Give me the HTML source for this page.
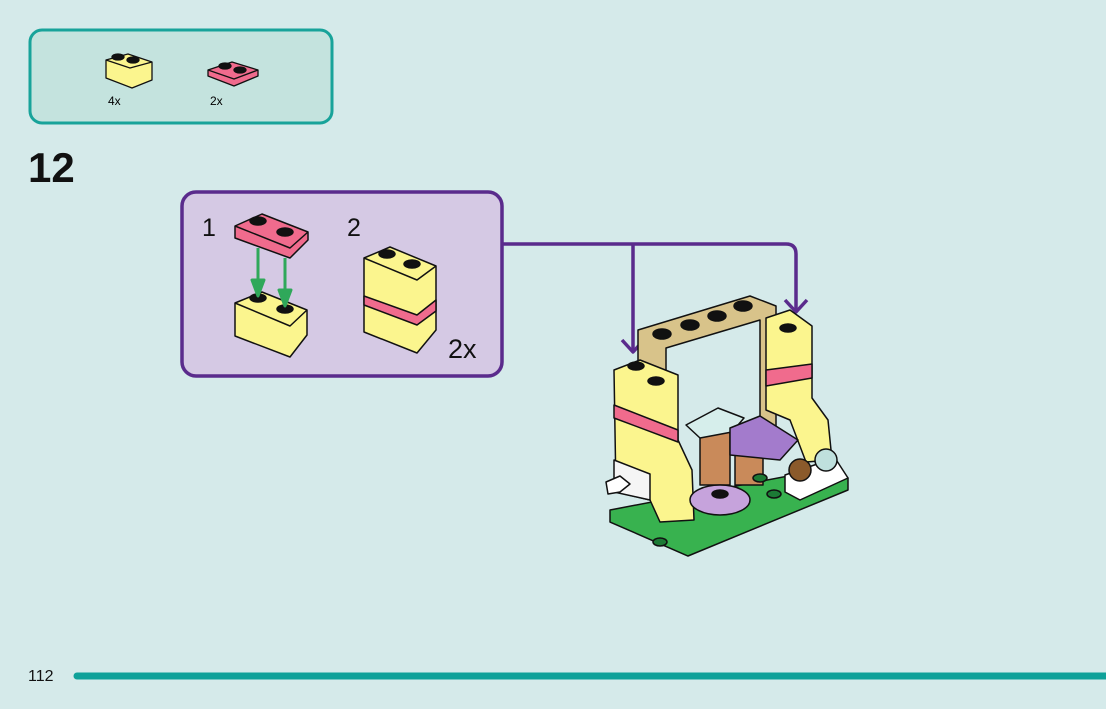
<!DOCTYPE html>
<html><head><meta charset="utf-8"><style>
html,body{margin:0;padding:0;background:#d5eaea;}
svg{display:block}
text{font-family:"Liberation Sans",sans-serif;}
</style></head><body>
<svg width="1106" height="709" viewBox="0 0 1106 709" xmlns="http://www.w3.org/2000/svg" stroke-linejoin="round">
<rect width="1106" height="709" fill="#d5eaea"/>
<!-- parts box -->
<rect x="30" y="30" width="302" height="93" rx="12" fill="#c4e3de" stroke="#18a39a" stroke-width="3"/>
<g stroke="#111" stroke-width="1.3">
<polygon points="106,60 128,54 152,62 152,80 132,88 106,78" fill="#fbf58e"/>
<polyline points="106,60 130,68 152,62 M130,68 130,88" fill="none"/>
<ellipse cx="118" cy="57" rx="6" ry="3" fill="#111"/><ellipse cx="133" cy="60" rx="6" ry="3" fill="#111"/>
<polygon points="208,70 232,62 258,70 258,76 234,86 208,76" fill="#f06b8d"/>
<polyline points="208,70 234,79 258,70 M234,79 234,86" fill="none"/>
<ellipse cx="225" cy="66" rx="6" ry="3" fill="#111"/><ellipse cx="240" cy="70" rx="6" ry="3" fill="#111"/>
</g>
<text x="108" y="105" font-size="12">4x</text>
<text x="210" y="105" font-size="12">2x</text>
<text x="28" y="182" font-size="42" font-weight="bold" fill="#111">12</text>
<!-- arrows -->
<g fill="none" stroke="#5a2b8c" stroke-width="3.5">
<path d="M502,244 H786 Q796,244 796,254 V312"/>
<path d="M633,244 V352"/>
<path d="M622,340 L633,352 L644,340"/>
<path d="M785,300 L796,312 L807,300"/>
</g>
<!-- purple box -->
<rect x="182" y="192" width="320" height="184" rx="14" fill="#d5c9e4" stroke="#5a2b8c" stroke-width="3.5"/>
<text x="202" y="236" font-size="25" fill="#111">1</text>
<text x="347" y="236" font-size="25" fill="#111">2</text>
<text x="448" y="358" font-size="27" fill="#111">2x</text>
<g stroke="#111" stroke-width="1.5">
<polygon points="235,226 262,214 308,232 308,240 290,258 235,238" fill="#f06b8d"/>
<polyline points="235,226 290,248 308,232 M290,248 290,258" fill="none"/>
<ellipse cx="258" cy="221" rx="8" ry="4" fill="#111"/><ellipse cx="285" cy="232" rx="8" ry="4" fill="#111"/>
<polygon points="235,303 262,292 307,310 307,335 290,357 235,336" fill="#fbf58e"/>
<polyline points="235,303 290,326 307,310 M290,326 290,357" fill="none"/>
<ellipse cx="258" cy="298" rx="8" ry="4" fill="#111"/><ellipse cx="285" cy="309" rx="8" ry="4" fill="#111"/>
<polygon points="364,258 390,247 436,266 436,330 417,353 364,332" fill="#fbf58e"/>
<polygon points="364,296 417,315 436,300 436,311 417,325 364,305" fill="#f06b8d"/>
<polyline points="364,258 417,280 436,266 M417,280 417,353" fill="none"/>
<ellipse cx="387" cy="254" rx="8" ry="4" fill="#111"/><ellipse cx="412" cy="264" rx="8" ry="4" fill="#111"/>
</g>
<g stroke="#2fa85a" stroke-width="3" fill="#2fa85a">
<line x1="258" y1="248" x2="258" y2="288"/><polygon points="252,280 264,280 258,296"/>
<line x1="285" y1="258" x2="285" y2="298"/><polygon points="279,290 291,290 285,306"/>
</g>
<!-- model -->
<g stroke="#111" stroke-width="1.5">
<polygon points="610,510 820,470 848,478 848,490 688,556 610,522" fill="#38b24f"/>
<polygon points="638,330 750,296 776,306 776,440 760,440 760,320 666,348 666,420 638,420" fill="#d8c38a"/>
<ellipse cx="662" cy="334" rx="9" ry="5" fill="#111"/><ellipse cx="690" cy="325" rx="9" ry="5" fill="#111"/>
<ellipse cx="717" cy="316" rx="9" ry="5" fill="#111"/><ellipse cx="743" cy="306" rx="9" ry="5" fill="#111"/>
<polygon points="766,318 790,310 812,326 812,398 828,420 832,460 806,462 790,420 766,410" fill="#fbf58e"/>
<polygon points="766,370 812,364 812,378 766,386" fill="#f06b8d"/>
<ellipse cx="788" cy="328" rx="8" ry="4" fill="#111"/>
<polygon points="614,370 640,360 678,375 678,440 692,470 694,520 660,522 650,500 616,492" fill="#fbf58e"/>
<polygon points="614,405 678,430 678,442 614,418" fill="#f06b8d"/>
<polygon points="614,460 650,474 650,500 614,492" fill="#f5f5f5"/>
<ellipse cx="636" cy="366" rx="8" ry="4" fill="#111"/><ellipse cx="656" cy="381" rx="8" ry="4" fill="#111"/>
<polygon points="606,482 620,476 630,484 620,492 608,494" fill="#fff"/>
<rect x="700" y="430" width="30" height="55" fill="#c98a5a"/>
<rect x="735" y="440" width="28" height="45" fill="#c98a5a"/>
<polygon points="686,425 718,408 744,418 732,432 700,438" fill="#d6eeeb"/>
<polygon points="730,428 760,416 798,440 780,460 730,455" fill="#a37bcc"/>
<ellipse cx="720" cy="500" rx="30" ry="15" fill="#c6a3dc"/>
<ellipse cx="720" cy="494" rx="8" ry="4" fill="#111"/>
<polygon points="785,475 835,458 848,478 800,500 785,492" fill="#fff"/>
<circle cx="800" cy="470" r="11" fill="#8b5a2b"/><circle cx="826" cy="460" r="11" fill="#bfe0dd"/>
<ellipse cx="660" cy="542" rx="7" ry="4" fill="#1c7a35"/><ellipse cx="774" cy="494" rx="7" ry="4" fill="#1c7a35"/>
<ellipse cx="760" cy="478" rx="7" ry="4" fill="#1c7a35"/>
</g>
<!-- footer -->
<text x="28" y="681" font-size="16" fill="#111">112</text>
<line x1="77" y1="676" x2="1106" y2="676" stroke="#0fa199" stroke-width="7" stroke-linecap="round"/>
</svg>
</body></html>
